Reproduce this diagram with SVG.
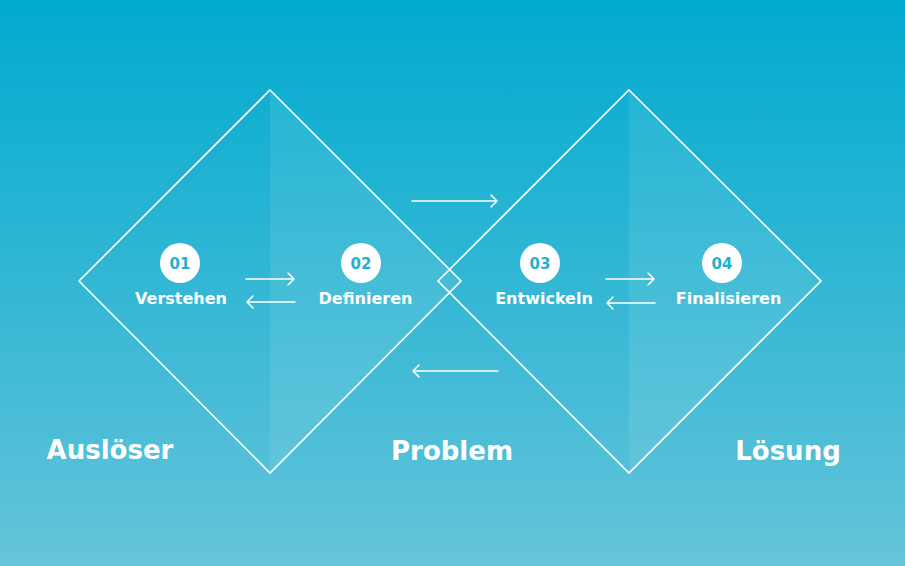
<svg xmlns="http://www.w3.org/2000/svg" width="905" height="566" viewBox="0 0 905 566">
<defs>
<linearGradient id="bg" x1="0" y1="0" x2="0" y2="1">
<stop offset="0" stop-color="#00aacf"/>
<stop offset="1" stop-color="#65c4da"/>
</linearGradient>
<style>
.dia{fill:none;stroke:#fff;stroke-width:1.6}
.half{fill:#fff;fill-opacity:0.09}
.num{fill:#fff}
.numt{font-family:"DejaVu Sans",sans-serif;font-weight:bold;font-size:15px;fill:#1fb0d2;text-anchor:middle}
.lbl{font-family:"DejaVu Sans",sans-serif;font-weight:bold;font-size:16px;fill:#fff;text-anchor:middle}
.big{font-family:"DejaVu Sans",sans-serif;font-weight:bold;font-size:26px;fill:#fff;text-anchor:middle}
.arr{fill:none;stroke:#fff;stroke-width:1.5;stroke-linecap:round;stroke-linejoin:round}
</style>
</defs>
<rect width="905" height="566" fill="url(#bg)"/>
<g id="diamond1">
<polygon class="half" points="270,90 461,281 270,473"/>
<polygon class="dia" points="270,90 461,281 270,473 79,281"/>
</g>
<g id="diamond2">
<polygon class="half" points="629,90 821,281 629,473"/>
<polygon class="dia" points="629,90 821,281 629,473 438,281"/>
</g>
<g id="step01">
<circle class="num" cx="180" cy="263" r="20"/>
<text class="numt" x="180" y="268.5">01</text>
<text class="lbl" x="181" y="304">Verstehen</text>
</g>
<g id="step02">
<circle class="num" cx="361" cy="263" r="20"/>
<text class="numt" x="361" y="268.5">02</text>
<text class="lbl" x="365.5" y="304">Definieren</text>
</g>
<g id="step03">
<circle class="num" cx="540" cy="263" r="20"/>
<text class="numt" x="540" y="268.5">03</text>
<text class="lbl" x="544" y="304">Entwickeln</text>
</g>
<g id="step04">
<circle class="num" cx="722" cy="263" r="20"/>
<text class="numt" x="722" y="268.5">04</text>
<text class="lbl" x="728.5" y="304">Finalisieren</text>
</g>
<g id="phase-labels">
<text class="big" x="110" y="459">Auslöser</text>
<text class="big" x="452" y="460">Problem</text>
<text class="big" x="788" y="460">Lösung</text>
</g>
<g id="connectors">
<path class="arr" d="M246,279 H294 M288,273 L294,279 L288,285"/>
<path class="arr" d="M295,302 H247 M253,296 L247,302 L253,308"/>
<path class="arr" d="M606,279 H654 M648,273 L654,279 L648,285"/>
<path class="arr" d="M655,303 H607 M613,297 L607,303 L613,309"/>
<path class="arr" d="M412,201 H497 M491,195 L497,201 L491,207"/>
<path class="arr" d="M498,371 H413 M419,365 L413,371 L419,377"/>
</g>
</svg>
